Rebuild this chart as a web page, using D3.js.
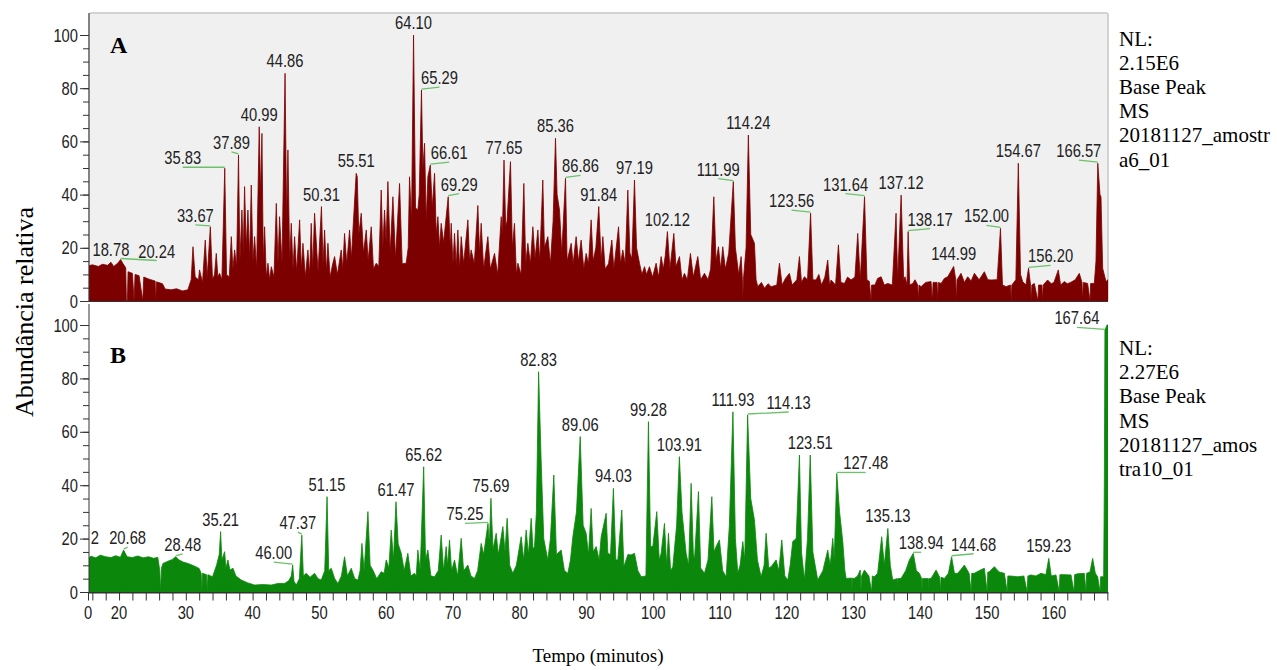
<!DOCTYPE html>
<html>
<head>
<meta charset="utf-8">
<script src="https://cdn.jsdelivr.net/npm/d3@7"></script>
<style>
  body { margin: 0; background: #fff; }
  svg { display: block; }
  .narrow { font-family: "Liberation Sans", Arial, sans-serif; font-size: 18px; fill: #222; }
  .axis path, .axis line { stroke: #333; }
  .serif { font-family: "Liberation Serif", "Times New Roman", serif; fill: #000; }
</style>
</head>
<body>
<svg id="chart" width="1277" height="670"></svg>
<script>
// ---- data (time in min, relative abundance in %) ----

const traceA = [
  [15.35,13.2],[16.0,13.6],[16.9,13.0],[17.5,13.8],[18.3,13.4],[18.78,14.6],[19.2,13.0],[19.8,14.2],[20.24,15.6],[20.6,14.0],
  [21.0,12.5],[21.1,0],[21.25,0],[21.35,11],[22.0,10.4],[22.25,0],[22.4,10],[23.0,9.5],[23.55,0],[23.7,9],[24.5,8.2],[25.4,7.5],
  [25.5,0],[25.6,7.2],[26.5,6.5],[26.9,4.5],[27.8,4.2],[28.6,4.6],[29.5,3.8],[30.3,4.2],[30.8,8],[31.07,20.4],[31.4,9],[31.9,8],
  [32.05,11.7],[32.5,7],[32.91,22.9],[33.2,9],[33.67,27.9],[34.0,8],[34.3,10],[34.56,17.9],[34.8,9],[35.06,10.4],[35.4,8],
  [35.83,49.9],[36.1,10],[36.5,9],[36.81,24.2],[37.05,12],[37.31,19.2],[37.6,13],[37.89,54.9],[38.1,15],[38.4,34.2],[38.6,18],
  [38.8,43],[39.05,20],[39.3,34.2],[39.55,16],[39.8,43.6],[40.05,15],[40.3,24.2],[40.6,12],[40.99,65.5],[41.2,40],[41.4,63],
  [41.6,15],[41.8,27.9],[42.05,9],[42.3,14.2],[42.55,8],[42.8,12.9],[43.2,9],[43.55,36.7],[43.8,14],[44.04,31.7],[44.4,14],
  [44.86,85.6],[45.1,30],[45.29,56.8],[45.55,15],[45.79,29.2],[46.05,12],[46.29,24.2],[46.6,11],[47.04,30.5],[47.3,12],
  [47.54,21.7],[47.9,9],[48.28,19.2],[48.55,10],[48.78,29.2],[49.0,12],[49.28,33],[49.8,11],[50.31,35.5],[50.55,14],[50.78,26.7],
  [51.05,11],[51.28,21.7],[51.6,9],[52.0,14],[52.28,16.7],[52.7,10],[53.27,19.2],[53.5,12],[53.77,25.4],[54.1,14],[54.52,26.7],
  [54.8,16],[55.1,30],[55.51,48],[55.67,46.7],[55.9,25],[56.27,33],[56.6,18],[57.02,26.7],[57.3,15],[57.77,27.9],[58.1,12],
  [58.51,14.2],[58.9,13],[59.26,41.7],[59.5,20],[59.76,34.2],[60.0,22],[60.26,44.9],[60.6,18],[61.01,39.2],[61.4,16],[62.01,44.2],
  [62.4,14],[63.0,14.2],[63.3,20],[63.5,46.7],[63.8,30],[64.10,100],[64.4,35],[64.75,34.2],[64.95,40],[65.29,79.3],[65.5,50],
  [65.75,59.3],[66.0,30],[66.25,46.7],[66.61,51.1],[66.9,35],[67.25,48],[67.5,25],[67.75,31.7],[68.0,20],[68.24,29.2],[68.6,22],
  [69.29,39.2],[69.6,20],[69.74,29.2],[70.0,14],[70.24,25.4],[70.5,13],[70.74,26.7],[71.0,12],[71.24,24.2],[71.6,14],[72.24,30.5],
  [72.5,15],[72.73,19.2],[73.2,14],[73.73,35.9],[74.0,18],[74.23,29.2],[74.6,12],[75.23,24.2],[75.6,12],[76.23,17.9],[76.7,10],
  [77.23,31.7],[77.4,25],[77.65,53],[77.9,28],[78.1,30],[78.62,52.4],[78.9,20],[79.22,29.2],[79.5,10],[79.72,14.2],[80.2,10],
  [80.62,44.2],[80.9,14],[81.22,21.7],[81.6,14],[81.97,27.9],[82.3,16],[82.72,26.7],[83.0,15],[83.46,45.5],[83.7,20],[84.21,24.2],
  [84.6,14],[85.0,30],[85.36,61.2],[85.6,40],[85.96,34.2],[86.3,18],[86.86,46.1],[87.1,15],[87.71,21.7],[88.0,14],[88.45,24.2],
  [88.8,15],[89.2,22.9],[89.6,12],[89.95,17.9],[90.3,14],[90.7,30.5],[91.0,15],[91.4,20],[91.84,35.5],
  [92.2,15],[92.45,24.2],[92.8,12],[93.3,14],[93.8,22.9],[94.1,12],[94.8,27.9],[95.1,14],[95.44,19.2],[95.8,14],[96.19,41.7],
  [96.5,18],[96.8,16],[97.19,45.5],[97.5,20],[97.94,14.2],[98.3,10],[98.69,12.9],[99.0,10],[99.43,12.9],[99.9,9],[100.43,14.2],
  [100.8,9],[101.18,16.7],[101.5,12],[101.8,17],[102.12,26.1],[102.5,12],[103.08,25.4],[103.4,13],[103.93,16.7],[104.3,8],
  [104.67,10.4],[105.1,8],[105.57,17.9],[106.0,9],[106.67,16.7],[107.1,8],[107.67,10.4],[108.2,8],[108.6,12],[109.07,39.2],
  [109.4,15],[109.76,20.4],[110.1,12],[110.41,20.4],[110.8,12],[111.3,18],[111.99,44.9],[112.3,20],[112.8,10],[113.16,16.7],
  [113.35,8],[113.4,0],[113.5,8],[113.9,20],[114.24,62.4],[114.6,25],[115.15,21.7],[115.4,8],[115.65,5.4],[116.2,7],[116.65,4.8],
  [117.2,6.5],[117.65,5.4],[118.5,6],[118.9,14.2],[119.3,6],[119.8,8.5],[120.39,10.4],[120.8,6],[121.5,8],[121.89,16.7],[122.2,7],
  [122.64,9.1],[123.1,8],[123.56,33],[123.9,8],[124.38,7.9],[124.8,10],[125.2,6],[125.7,9],[126.13,15.4],[126.4,6],[126.63,7.9],
  [127.3,6],[127.73,21.1],[128.1,7],[128.63,6.6],[129.1,9],[129.62,7.9],[130.2,9],[130.62,25.4],[131.0,8],[131.64,39.2],[132.0,8],
  [132.37,7.3],[132.6,0],[132.7,6],[133.2,6],[133.6,8.5],[134.12,9.1],[134.6,6],[135.11,6.6],[135.8,6],[136.36,33],[136.6,8],
  [137.12,39.8],[137.5,8],[137.71,9.1],[138.0,6],[138.17,26.1],[138.4,6],[138.86,6.6],[139.2,8],[139.6,6],[139.7,0],[139.8,6],
  [140.1,5.4],[140.8,7],[141.6,7.3],[141.8,0],[141.9,7],[142.5,7],[142.6,0],[142.7,7],[143.1,6.6],[143.6,8.5],[144.1,9.1],
  [144.99,13],[145.3,8],[145.4,0],[145.5,8],[146.09,10.4],[146.6,7],[147.09,9.1],[147.6,7.5],[148.09,10.4],[148.8,8],[149.2,9.5],
  [149.58,11],[150.1,8],[150.58,7.9],[151.5,8],[152.0,27.3],[152.3,6],[152.83,5.4],[153.5,6],[153.6,0],[153.7,6],[154.3,8],
  [154.67,51.8],[155.0,10],[155.32,7.3],[155.8,6],[156.2,12.3],[156.5,6],[156.6,0],[156.7,6],[157.07,6.6],[157.6,0],[157.7,6],
  [158.2,6],[158.3,0],[158.4,6],[159.06,7.9],[159.6,6.5],[160.0,7],[160.66,11.7],[161.0,6],[161.56,7.3],[162.0,6.5],[162.5,7],
  [163.2,8],[163.8,10.4],[164.2,7],[164.3,0],[164.4,7],[165.05,6.6],[165.4,0],[165.5,6.6],[166.05,6.6],[166.3,15],[166.57,51.8],
  [166.9,40],[167.05,39.2],[167.3,12.3],[167.8,7.3],[168.1,8]
];

const traceB = [
  [15.35,12.5],[15.8,13.4],[16.5,12.8],[17.2,13.8],[18.0,13.2],[18.8,12.9],[19.5,13.6],[20.2,13.0],[20.68,15.7],[21.2,13.2],
  [22.0,12.9],[22.8,13.5],[23.6,12.8],[24.4,13.2],[25.2,12.6],[25.8,13.0],[26.1,8],[26.23,0],[26.35,9],[26.58,10.7],[27.3,11.5],
  [28.0,12.2],[28.48,13.2],[29.0,12.0],[29.6,11.2],[30.32,10.7],[31.2,9.8],[32.0,8.8],[32.3,7],[32.4,0],[32.5,7],[33.1,6.5],
  [33.2,0],[33.3,6.5],[34.0,5.7],[34.6,10],[35.0,14],[35.21,22.6],[35.4,12],[35.81,15.1],[36.0,9],[36.31,12],[36.6,8.2],
  [37.06,8.9],[37.5,6],[38.3,4.5],[39.2,3.5],[40.3,2.6],[41.5,2.8],[42.8,2.6],[43.8,3.2],[44.79,3.2],[45.4,4.2],[45.8,6],
  [46.0,10.1],[46.2,4],[46.54,2.6],[47.0,5],[47.37,21.3],[47.6,6],[48.03,7],[48.6,5.5],[49.28,7],[49.8,5],[50.28,4.5],[50.8,8],
  [51.15,35.7],[51.4,8],[51.78,8.9],[52.3,5],[52.77,3.2],[53.3,6],[53.77,13.2],[54.2,6],[54.77,8.9],[55.3,5],[55.77,4.5],[56.1,8],
  [56.37,18.2],[56.7,8],[57.27,30.1],[57.6,10],[58.01,8.2],[58.6,5],[59.26,7.6],[59.7,7],[60.01,12],[60.4,9],[60.76,23.2],
  [61.1,12],[61.47,33.8],[61.8,18],[62.26,14.5],[62.7,8],[63.25,14.5],[63.7,6],[64.25,7],[64.5,6],[64.75,15.7],[65.1,8],
  [65.62,46.9],[65.9,12],[66.25,15.7],[66.7,6],[67.25,5.7],[67.8,8],[68.24,21.3],[68.6,8],[68.99,17],[69.2,10],[69.49,19.5],
  [69.8,8],[70.24,12],[70.7,6],[71.24,20.1],[71.6,8],[72.24,10.1],[72.7,6],[73.23,5.1],[73.7,8],[74.23,18.2],[74.6,14],
  [75.25,25.7],[75.45,18],[75.69,35.1],[76.0,16],[76.48,22],[76.8,14],[77.48,24.5],[77.8,15],[78.12,27.6],[78.5,10],[78.97,7],
  [79.5,10],[80.22,20.7],[80.6,12],[80.97,23.2],[81.3,14],[81.72,27.6],[82.0,16],[82.22,17],[82.5,30],[82.83,82.5],[83.2,50],
  [83.6,20],[84.21,12],[84.6,20],[85.11,43.8],[85.5,14],[86.21,15.7],[86.7,8],[87.21,7],[87.6,12],[87.96,20.7],[88.5,30],
  [89.06,58.2],[89.5,25],[89.95,22],[90.3,14],[90.7,31.3],[91.0,15],[91.45,17],[91.9,12],
  [92.2,20.7],[92.95,29.5],[93.2,14.5],[93.6,14],[94.03,38.8],[94.4,12],[94.69,12],[95.29,30.7],[95.6,9.5],[96.2,14],
  [96.69,13.9],[97.19,14.5],[97.7,8],[98.19,5.7],[98.9,6],[99.28,63.8],[99.6,17],[99.93,17],[100.53,30.1],[100.9,12],
  [101.18,14.5],[101.68,25.7],[102.0,10],[102.28,22],[102.6,8],[102.93,9.5],[103.5,25],[103.91,50.7],[104.3,30],[104.92,14.5],
  [105.3,10],[105.67,40.7],[106.0,14.5],[106.17,12],[106.77,37.6],[107.1,9],[107.67,7],[108.2,12],[108.77,35.7],[109.1,15],
  [109.41,17],[109.91,19.5],[110.4,8],[110.91,5.7],[111.4,25],[111.93,67.5],[112.3,20],[112.66,7],[113.0,10],[113.41,18.9],
  [113.7,12],[114.13,66.3],[114.6,35],[115.15,27],[115.6,12],[116.15,5.7],[116.6,10],[116.9,22],[117.3,9],[117.65,9.5],
  [118.4,12],[118.8,8],[119.25,19.5],[119.7,6],[120.14,4.5],[120.5,10],[120.89,18.9],[121.4,20],[121.89,51.3],[122.2,15],
  [122.64,4.5],[123.1,20],[123.51,51.3],[123.9,15],[124.63,4.5],[125.4,8],[126.13,15.7],[126.5,10],[126.88,20.1],[127.1,12],
  [127.48,44.4],[127.9,30],[128.38,18.9],[128.7,8],[128.88,5.1],[129.7,5.2],[129.75,0],[129.8,5.2],[130.12,5.1],[130.6,6],
  [131.0,8.2],[131.1,0],[131.2,6],[131.62,8.2],[132.3,6],[132.7,0],[132.8,6],[133.12,5.7],[133.6,7],[134.21,20.7],[134.6,10],
  [135.13,23.8],[135.5,10],[135.86,4.5],[136.5,5],[136.55,0],[136.6,5],[137.11,5.1],[137.8,8],[138.36,12],[138.94,14.5],
  [139.4,8],[139.85,7],[140.2,5],[140.25,0],[140.3,5],[140.6,5.1],[141.2,5],[141.25,0],[141.3,5],[141.6,5.1],[142.35,8.2],
  [142.9,5.5],[143.0,0],[143.1,5.5],[143.6,5.1],[144.2,7],[144.68,13.2],[145.1,7],[145.59,7],[146.1,8.5],[146.59,10.1],
  [147.3,7],[147.6,0],[147.7,7],[148.09,7],[148.8,8],[149.58,8.9],[150.0,0],[150.1,7.5],[150.3,7.5],[151.08,9.5],[151.8,7.5],
  [152.58,7],[153.0,0],[153.1,6],[153.5,6],[154.57,5.7],[155.5,6],[156.0,0],[156.1,6],[156.57,6.4],[157.3,6],[158.07,7],
  [158.8,6.5],[159.23,12.6],[159.6,6],[160.31,6.4],[160.8,0],[160.9,6.5],[161.5,6.5],[162.56,6.4],[163.0,0],[163.1,6.5],
  [163.5,6.8],[164.55,7],[164.8,0],[164.9,7],[165.4,7.5],[165.8,12.6],[166.2,7],[166.55,5.7],[166.9,0],[167.0,5.7],
  [167.45,5.7],[167.55,40],[167.64,98],[167.95,100],[168.1,100]
];

// peak labels (text = retention time, height)
const labelsA = ["18.78","20.24","33.67","35.83","37.89","40.99","44.86","50.31","55.51","64.10","65.29","66.61","69.29",
  "77.65","85.36","86.86","91.84","97.19","102.12","111.99","114.24","123.56","131.64","137.12","138.17","144.99","152.00",
  "154.67","156.20","166.57"];
const labelsB = ["20.68","28.48","35.21","46.00","47.37","51.15","61.47","65.62","75.25","75.69","82.83","89.06",
  "94.03","99.28","103.91","111.93","114.13","123.51","127.48","135.13","138.94","144.68","159.23","167.64"];
// a label cut off by the left axis of panel B, only its last digit shows
const cutLabelB = "2";

const infoA = ["NL:", "2.15E6", "Base Peak", "MS", "20181127_amostr", "a6_01"];
const infoB = ["NL:", "2.27E6", "Base Peak", "MS", "20181127_amos", "tra10_01"];

const yMajor = [0, 20, 40, 60, 80, 100];
const xMajor = [20, 30, 40, 50, 60, 70, 80, 90, 100, 110, 120, 130, 140, 150, 160];

// ---- layout ----

const X0 = 88, X1 = 1108;
const NARROW = 0.82;
const PANEL_A = { top: 13, y0: 301, y100: 35, color: "#7d0000" };
const PANEL_B = { top: 304, y0: 592, y100: 325, color: "#0b870b" };
const CONNECTOR = "#6cc26a";

// label nudges in px [dx, dy]
const nudgeA = {
  "20.24": [36, 4], "33.67": [-15, 1], "35.83": [-42, 2], "37.89": [-7, 0], "65.29": [18, 0], "66.61": [19, 0],
  "69.29": [11, 0], "86.86": [15, 0], "111.99": [-15, 0], "123.56": [-19, 0], "131.64": [-19, 0], "138.17": [22, 0],
  "152.00": [-14, 0], "156.20": [22, 0], "166.57": [-19, 0]
};
const nudgeB = {
  "20.68": [4, 0], "28.48": [7, 0], "46.00": [-19, 0], "47.37": [-4, 0], "75.25": [-23, 3],
  "114.13": [41, 0], "127.48": [29, 2], "138.94": [8, 2], "144.68": [22, 0], "167.64": [-28, 0]
};

const svg = d3.select("#chart");
const x = d3.scaleLinear().domain([15.35, 168.1]).range([X0, X1]);

// condensed sans text (no narrow face installed, so squeeze horizontally)
function narrowText(sel, px, py, anchor, txt) {
  return sel.append("text")
    .attr("class", "narrow")
    .attr("transform", `translate(${px},${py}) scale(${NARROW},1)`)
    .attr("text-anchor", anchor)
    .text(txt);
}

const defs = svg.append("defs");
defs.append("clipPath").attr("id", "clipA")
  .append("rect").attr("x", X0 + 1).attr("y", PANEL_A.top).attr("width", X1 - X0 - 1).attr("height", PANEL_A.y0 - PANEL_A.top);
defs.append("clipPath").attr("id", "clipB")
  .append("rect").attr("x", X0 + 1).attr("y", PANEL_B.top).attr("width", X1 - X0 - 1).attr("height", PANEL_B.y0 - PANEL_B.top);

// panel A frame
svg.append("rect")
  .attr("x", X0 + 1).attr("y", PANEL_A.top)
  .attr("width", X1 - X0 - 1).attr("height", PANEL_A.y0 - PANEL_A.top)
  .attr("rx", 2)
  .attr("fill", "#f0f0f0")
  .attr("stroke", "#c6c6c6")
  .attr("stroke-width", 1.5);

function drawPanel(panel, trace, labels, nudge, clipId, tag, info) {
  const y = d3.scaleLinear().domain([0, 100]).range([panel.y0, panel.y100]);

  const area = d3.area()
    .x(d => x(d[0]))
    .y0(y(0))
    .y1(d => y(d[1]));

  svg.append("path")
    .datum(trace)
    .attr("clip-path", `url(#${clipId})`)
    .attr("d", area)
    .attr("fill", panel.color)
    .attr("stroke", panel.color)
    .attr("stroke-width", 0.8);

  // y axis: minor then major
  svg.append("g").attr("class", "axis")
    .attr("transform", `translate(${X0 + 1},0)`)
    .call(d3.axisLeft(y).tickValues(d3.range(0, 101, 5)).tickSize(6).tickFormat(""))
    .call(g => g.select(".domain").remove());

  const ya = svg.append("g").attr("class", "axis")
    .attr("transform", `translate(${X0 + 1},0)`)
    .call(d3.axisLeft(y).tickValues(yMajor).tickSize(9).tickFormat("").tickSizeOuter(0));
  ya.select(".domain").attr("d", `M0,${panel.top}V${panel.y0}`);

  const tl = svg.append("g");
  yMajor.forEach(v => narrowText(tl, 78, y(v) + 6.5, "end", v));

  // baseline of the panel
  svg.append("line")
    .attr("x1", X0).attr("x2", X1)
    .attr("y1", panel.y0 + 0.5).attr("y2", panel.y0 + 0.5)
    .attr("stroke", "#333");

  // peak labels
  const lg = svg.append("g");
  labels.forEach(txt => {
    const t = +txt;
    const pt = trace.find(d => Math.abs(d[0] - t) < 1e-6);
    const px = x(t), py = y(pt[1]);
    const [dx, dy] = nudge[txt] || [0, 0];
    const lx = px + dx, ly = py - 6 + dy;
    if (nudge[txt] && Math.abs(dx) > 2) {
      lg.append("line")
        .attr("x1", px).attr("y1", py - 1)
        .attr("x2", lx).attr("y2", ly + 3)
        .attr("stroke", CONNECTOR)
        .attr("stroke-width", 1.3);
    }
    narrowText(lg, lx, ly, "middle", txt);
  });

  // panel letter
  svg.append("text").attr("class", "serif")
    .attr("x", 110).attr("y", tag === "A" ? 53 : 363)
    .attr("font-size", 24).attr("font-weight", "bold")
    .text(tag);

  // info block
  const top = tag === "A" ? 45.5 : 355;
  svg.append("g").selectAll("text")
    .data(info).join("text")
    .attr("class", "serif")
    .attr("x", 1119)
    .attr("y", (d, i) => top + i * 24.2)
    .attr("font-size", 21)
    .text(d => d);

  return y;
}

drawPanel(PANEL_A, traceA, labelsA, nudgeA, "clipA", "A", infoA);
const yB = drawPanel(PANEL_B, traceB, labelsB, nudgeB, "clipB", "B", infoB);

narrowText(svg, 99, yB(13.6) - 12, "end", cutLabelB);

// x axis under panel B
const xTicks = [x.domain()[0]].concat(d3.range(16, 169, 2));
svg.append("g").attr("class", "axis")
  .attr("transform", `translate(0,${PANEL_B.y0 + 0.5})`)
  .call(d3.axisBottom(x).tickValues(xTicks).tickSize(8).tickSizeOuter(0).tickFormat(""));

const xl = svg.append("g");
narrowText(xl, x(x.domain()[0]), 619, "middle", "0");
xMajor.forEach(v => narrowText(xl, x(v), 619, "middle", v));

// axis titles
svg.append("text").attr("class", "serif")
  .attr("transform", "translate(33,312) rotate(-90)")
  .attr("text-anchor", "middle")
  .attr("font-size", 26)
  .text("Abundância relativa");

svg.append("text").attr("class", "serif")
  .attr("x", 598).attr("y", 662)
  .attr("text-anchor", "middle")
  .attr("font-size", 19)
  .text("Tempo (minutos)");
</script>
</body>
</html>
